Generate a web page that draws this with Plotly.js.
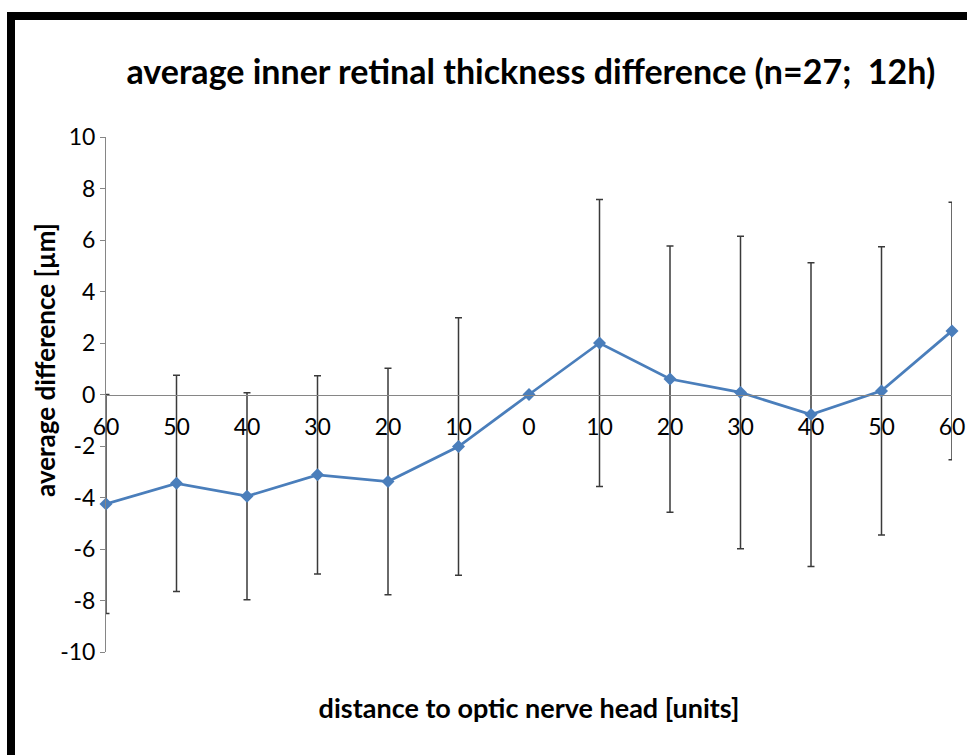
<!DOCTYPE html>
<html>
<head>
<meta charset="utf-8">
<script src="https://cdn.plot.ly/plotly-3.0.1.min.js"></script>
<style>
html,body{margin:0;padding:0;background:#fff;}
#wrap{position:relative;width:967px;height:755px;overflow:hidden;}
#chart{position:absolute;left:0;top:0;width:967px;height:755px;}
#frame{position:absolute;left:7px;top:12px;width:970px;height:760px;border-left:8px solid #000;border-top:8px solid #000;pointer-events:none;}
</style>
</head>
<body>
<div id="wrap"><div id="chart"></div><div id="frame"></div></div>
<script>
// Data
const xTickLabels = ["60","50","40","30","20","10","0","10","20","30","40","50","60"];
const positions = [0,1,2,3,4,5,6,7,8,9,10,11,12];
const avgDiff = [-4.25,-3.45,-3.95,-3.12,-3.38,-2.02,0,2.0,0.6,0.08,-0.78,0.14,2.47];
const errSize = [4.25,4.2,4.02,3.85,4.4,5.0,0,5.57,5.17,6.07,5.9,5.6,5.0];
const yTickVals = [-10,-8,-6,-4,-2,0,2,4,6,8,10];
const yTickLabels = ["-10","-8","-6","-4","-2","0","2","4","6","8","10"];

const font = 'Lato, "Open Sans", sans-serif';

const trace = {
  x: positions,
  y: avgDiff,
  xaxis: 'x2',
  yaxis: 'y',
  type: 'scatter',
  mode: 'lines+markers',
  line: {color: '#4a7ebb', width: 2.75},
  marker: {symbol: 'diamond', size: 10, color: '#4a7ebb'},
  error_y: {type: 'data', array: errSize, visible: true, color: '#3a3a3a', thickness: 1.5, width: 3.5},
  cliponaxis: false,
  showlegend: false,
  hoverinfo: 'x+y'
};
// empty trace keeps the bottom (title-only) axis alive
const base = {x: [], y: [], xaxis: 'x', yaxis: 'y', type: 'scatter', mode: 'markers', showlegend: false, hoverinfo: 'skip'};

const layout = {
  width: 967,
  height: 755,
  margin: {l: 106, r: 15, t: 137, b: 103},
  paper_bgcolor: '#ffffff',
  plot_bgcolor: '#ffffff',
  font: {family: font, color: '#000'},
  title: {
    text: 'average inner retinal thickness difference (n=27;\u00a0 12h)',
    font: {family: font, size: 34, weight: 'bold', color: '#000'},
    x: 0.549, xref: 'container', xanchor: 'center',
    y: 0.905, yref: 'container', yanchor: 'middle'
  },
  xaxis: {
    range: [0, 12],
    showline: false, showgrid: false, zeroline: false,
    showticklabels: false, ticks: '',
    title: {text: 'distance to optic nerve head [units]', font: {family: font, size: 27, weight: 'bold', color: '#000'}, standoff: 47}
  },
  xaxis2: {
    overlaying: 'x',
    anchor: 'free',
    position: 0.5,
    range: [0, 12],
    tickmode: 'array',
    tickvals: positions,
    ticktext: xTickLabels,
    ticks: '',
    ticklabelstandoff: 12,
    showline: true, linecolor: '#868686', linewidth: 1,
    showgrid: false, zeroline: false,
    tickfont: {family: font, size: 23, color: '#000'}
  },
  yaxis: {
    range: [-10, 10],
    tickmode: 'array',
    tickvals: yTickVals,
    ticktext: yTickLabels,
    ticks: 'outside', ticklen: 5, tickcolor: '#868686', tickwidth: 1,
    showline: true, linecolor: '#868686', linewidth: 1,
    showgrid: false, zeroline: false,
    tickfont: {family: font, size: 23, color: '#000'}
  },
  annotations: [{
    text: 'average difference [µm]',
    textangle: -90,
    xref: 'paper', yref: 'paper',
    x: (45 - 106) / 846, y: (652 - 360) / 515,
    xanchor: 'center', yanchor: 'middle',
    showarrow: false,
    font: {family: font, size: 26, weight: 'bold', color: '#000'}
  }]
};

Plotly.newPlot('chart', [base, trace], layout, {displayModeBar: false, staticPlot: true});
</script>
</body>
</html>
